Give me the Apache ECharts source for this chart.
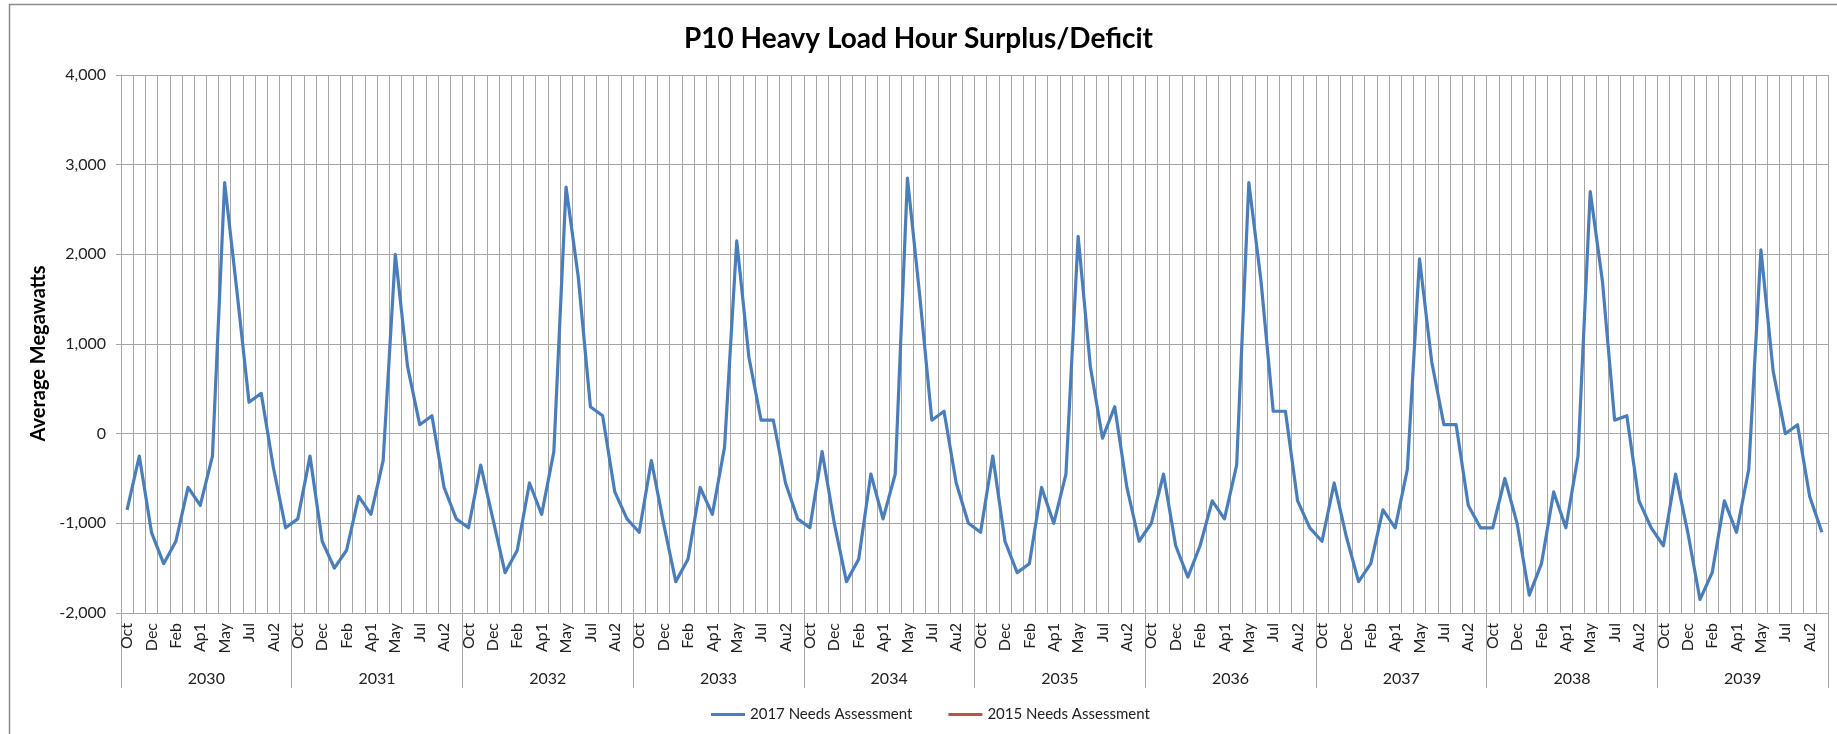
<!DOCTYPE html>
<html>
<head>
<meta charset="utf-8">
<script src="https://cdn.jsdelivr.net/npm/echarts@6/dist/echarts.min.js"></script>
<style>
html,body{margin:0;padding:0;background:#fff;}
#chart{width:1837px;height:734px;}
</style>
</head>
<body>
<div id="chart"></div>
<script>
const months = ['Oct','Nov','Dec','Jan','Feb','Mar','Ap1','Ap2','May','Jun','Jul','Au1','Au2','Sep'];
const years = ['2030','2031','2032','2033','2034','2035','2036','2037','2038','2039'];
const yTicks = [-2000, -1000, 0, 1000, 2000, 3000, 4000];

const y2030 = [-850,-250,-1100,-1450,-1200,-600,-800,-250,2800,1600,350,450,-380,-1050];
const y2031 = [-950,-250,-1200,-1500,-1300,-700,-900,-300,2000,750,100,200,-600,-950];
const y2032 = [-1050,-350,-950,-1550,-1300,-550,-900,-200,2750,1750,300,200,-650,-950];
const y2033 = [-1100,-300,-1000,-1650,-1400,-600,-900,-150,2150,850,150,150,-550,-950];
const y2034 = [-1050,-200,-1000,-1650,-1400,-450,-950,-450,2850,1550,150,250,-550,-1000];
const y2035 = [-1100,-250,-1200,-1550,-1450,-600,-1000,-450,2200,750,-50,300,-600,-1200];
const y2036 = [-1000,-450,-1250,-1600,-1250,-750,-950,-350,2800,1700,250,250,-750,-1050];
const y2037 = [-1200,-550,-1150,-1650,-1450,-850,-1050,-400,1950,800,100,100,-800,-1050];
const y2038 = [-1050,-500,-1000,-1800,-1450,-650,-1050,-250,2700,1700,150,200,-750,-1050];
const y2039 = [-1250,-450,-1100,-1850,-1550,-750,-1100,-400,2050,700,0,100,-700,-1100];

const series2017 = [].concat(y2030,y2031,y2032,y2033,y2034,y2035,y2036,y2037,y2038,y2039);
const series2015 = [];

const monthCats = [];
years.forEach(() => months.forEach(m => monthCats.push(m)));

const FONT = 'Lato';
const GRID = '#a6a6a6';

const chart = echarts.init(document.getElementById('chart'));
chart.setOption({
  backgroundColor: '#fff',
  animation: false,
  textStyle: { fontFamily: FONT },
  title: {
    text: 'P10 Heavy Load Hour Surplus/Deficit',
    left: 'center',
    top: 20,
    textStyle: { fontFamily: FONT, fontSize: 28, fontWeight: 'bold', color: '#000' }
  },
  graphic: [{
    type: 'rect',
    shape: { x: 9.5, y: 4.5, width: 1900, height: 800 },
    style: { fill: 'none', stroke: '#8c8c8c', lineWidth: 1.5 },
    silent: true
  }],
  legend: {
    left: 706,
    top: 702,
    itemWidth: 34,
    itemHeight: 3,
    itemGap: 36,
    textStyle: { fontFamily: FONT, fontSize: 15, color: '#222' },
    data: [
      { name: '2017 Needs Assessment', icon: 'rect' },
      { name: '2015 Needs Assessment', icon: 'rect' }
    ]
  },
  grid: { left: 121, right: 9, top: 75, bottom: 121, containLabel: false },
  xAxis: [
    {
      type: 'category',
      data: monthCats,
      boundaryGap: true,
      position: 'bottom',
      axisLine: { show: true, lineStyle: { color: GRID, width: 1 } },
      axisTick: { show: false },
      axisLabel: {
        interval: 1,
        rotate: 90,
        margin: 10,
        fontFamily: FONT,
        fontSize: 16,
        color: '#222'
      },
      splitLine: { show: true, interval: 0, lineStyle: { color: GRID, width: 1 } }
    },
    {
      type: 'category',
      data: years,
      boundaryGap: true,
      position: 'bottom',
      axisLine: { show: false },
      axisTick: { show: true, interval: 0, length: 75, lineStyle: { color: GRID, width: 1 } },
      axisLabel: {
        interval: 0,
        margin: 58,
        fontFamily: FONT,
        fontSize: 16,
        color: '#222'
      },
      splitLine: { show: false }
    }
  ],
  yAxis: {
    type: 'value',
    min: yTicks[0],
    max: yTicks[yTicks.length - 1],
    interval: 1000,
    name: 'Average Megawatts',
    nameLocation: 'middle',
    nameGap: 54,
    nameRotate: 90,
    nameTextStyle: { fontFamily: FONT, fontSize: 20, fontWeight: 'bold', color: '#000', padding: [0, 19, 0, 0] },
    axisLine: { show: true, lineStyle: { color: GRID, width: 1 } },
    axisTick: { show: true, length: 5, lineStyle: { color: GRID } },
    axisLabel: {
      margin: 15,
      fontFamily: FONT,
      fontSize: 16,
      color: '#222',
      formatter: v => v.toLocaleString('en-US')
    },
    splitLine: { show: true, lineStyle: { color: GRID, width: 1 } }
  },
  series: [
    {
      name: '2017 Needs Assessment',
      type: 'line',
      xAxisIndex: 0,
      data: series2017,
      symbol: 'none',
      lineStyle: { color: '#4a7ebb', width: 3.2, join: 'round' },
      itemStyle: { color: '#4a7ebb' }
    },
    {
      name: '2015 Needs Assessment',
      type: 'line',
      xAxisIndex: 0,
      data: series2015,
      symbol: 'none',
      lineStyle: { color: '#c0504d', width: 3 },
      itemStyle: { color: '#c0504d' }
    }
  ]
});
</script>
</body>
</html>
